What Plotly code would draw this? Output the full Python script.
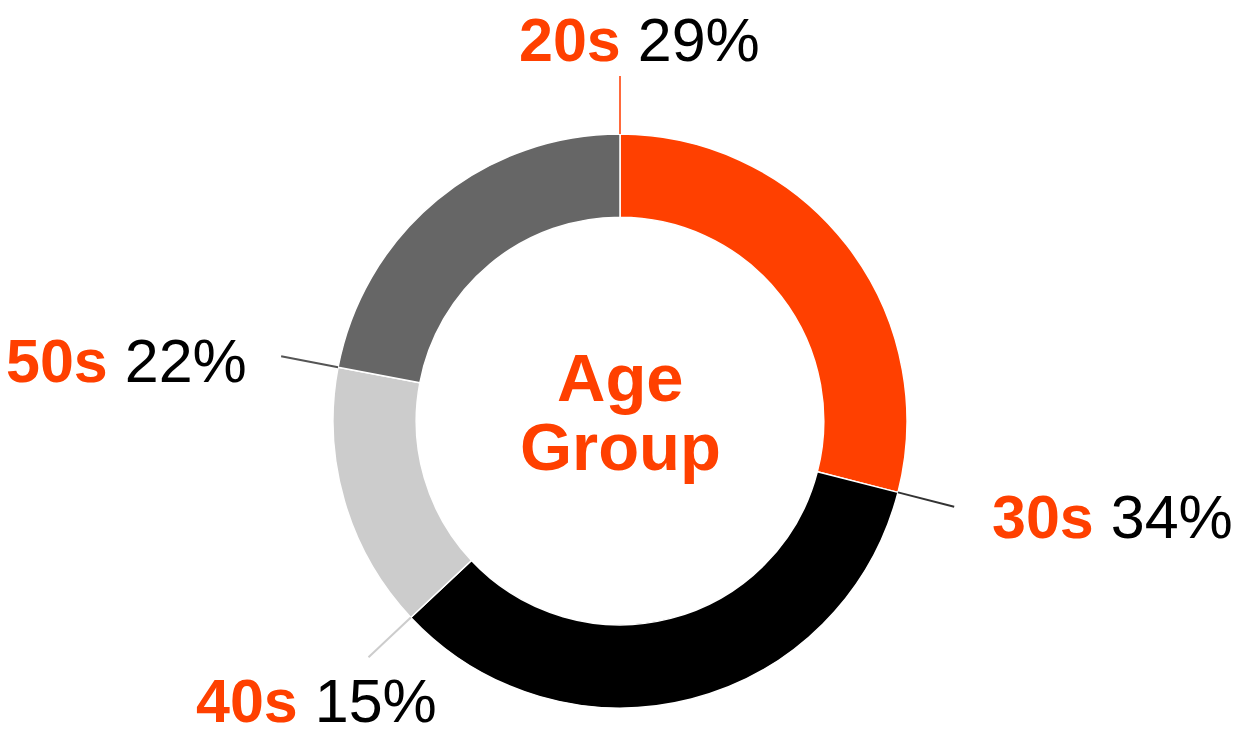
import math
import plotly.graph_objects as go

# ---- data ----
categories = ["20s", "30s", "40s", "50s"]
values = [29, 34, 15, 22]
center_title = ["Age", "Group"]

# ---- style ----
slice_colors = ["#FF4000", "#000000", "#CCCCCC", "#666666"]
line_colors = ["#FF6A3D", "#333333", "#CCCCCC", "#555555"]
ORANGE = "#FF4000"
W, H = 1236, 736
CX, CY, R = 620, 421, 287      # pie centre / radius in pixels (from top-left)
HOLE = 0.71
LEAD_R = 345                     # leader line outer radius (px)
FONT = "Liberation Sans, Arial, sans-serif"
LABEL_SIZE = 61
TITLE_SIZE = 67
# label placement relative to the outer end of each leader line: (dx, dy, xanchor)
label_offsets = [(19, -36, "center"), (36, 10, "left"), (-52, 44, "center"), (-32, 5, "right")]


def px_to_paper(x, y):
    return x / W, (H - y) / H


def polar_px(theta_deg, r):
    t = math.radians(theta_deg)
    return CX + r * math.sin(t), CY - r * math.cos(t)


fig = go.Figure()
fig.add_trace(go.Pie(
    labels=categories,
    values=values,
    hole=HOLE,
    sort=False,
    direction="clockwise",
    rotation=0,
    textinfo="none",
    hoverinfo="label+percent",
    marker=dict(colors=slice_colors, line=dict(color="white", width=1.5)),
    domain=dict(x=[(CX - R) / W, (CX + R) / W], y=[(H - CY - R) / H, (H - CY + R) / H]),
    showlegend=False,
))

total = sum(values)
shapes = []
annotations = []
cum = 0
for i, (cat, val) in enumerate(zip(categories, values)):
    theta = 360.0 * cum / total
    x0, y0 = px_to_paper(*polar_px(theta, R))
    ex, ey = polar_px(theta, LEAD_R)
    x1, y1 = px_to_paper(ex, ey)
    shapes.append(dict(type="line", xref="paper", yref="paper", x0=x0, y0=y0, x1=x1, y1=y1,
                       line=dict(color=line_colors[i], width=2)))
    dx, dy, xa = label_offsets[i]
    lx, ly = px_to_paper(ex + dx, ey + dy)
    pct = round(100.0 * val / total)
    annotations.append(dict(
        xref="paper", yref="paper", x=lx, y=ly, xanchor=xa, yanchor="middle", showarrow=False,
        text=f"<b><span style='color:{ORANGE}'>{cat}</span></b> <span style='color:#000000'>{pct}%</span>",
        font=dict(family=FONT, size=LABEL_SIZE, color="#000000"),
    ))
    cum += val

# centre title, two lines
for j, word in enumerate(center_title):
    tx, ty = px_to_paper(CX, 377 + j * 69)
    annotations.append(dict(
        xref="paper", yref="paper", x=tx, y=ty, xanchor="center", yanchor="middle", showarrow=False,
        text=f"<b>{word}</b>", font=dict(family=FONT, size=TITLE_SIZE, color=ORANGE),
    ))

fig.update_layout(
    width=W, height=H,
    margin=dict(l=0, r=0, t=0, b=0),
    paper_bgcolor="white", plot_bgcolor="white",
    shapes=shapes, annotations=annotations,
)

fig.write_html(
    "out.html",
    config={"displayModeBar": False},
    post_script="document.body.style.margin='0';document.body.style.overflow='hidden';",
)
